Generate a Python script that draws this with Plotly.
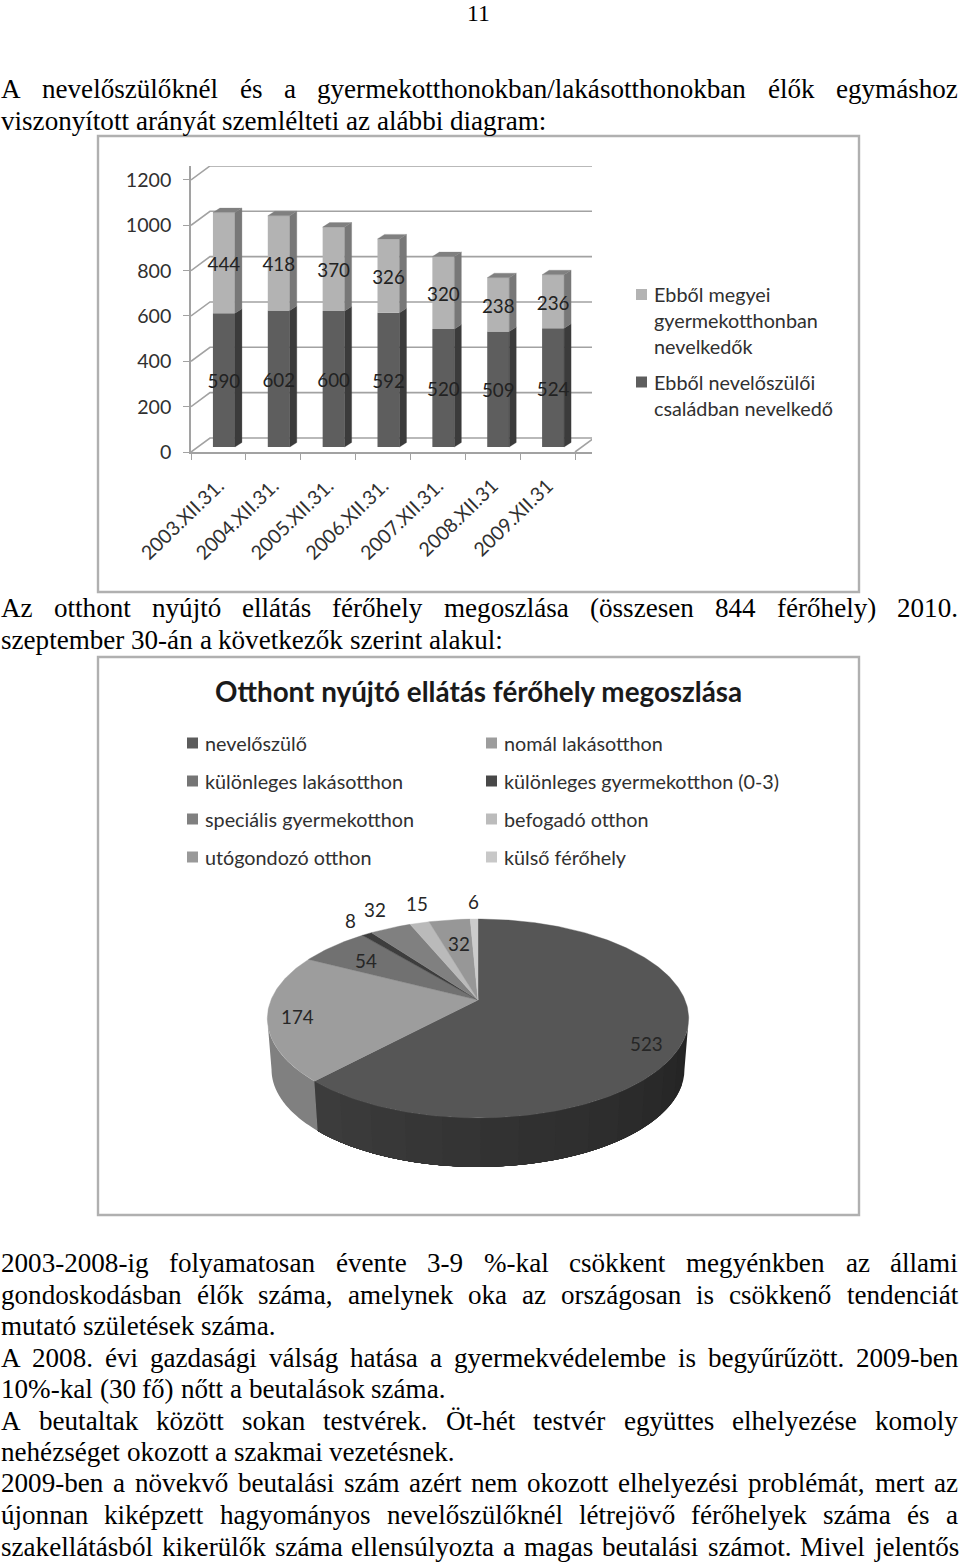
import math
import numpy as np
import plotly.graph_objects as go

# ---------- data ----------
bar_dates = ["2003.XII.31.", "2004.XII.31.", "2005.XII.31.", "2006.XII.31.",
             "2007.XII.31.", "2008.XII.31", "2009.XII.31"]
foster_family = [590, 602, 600, 592, 520, 509, 524]
county_home = [444, 418, 370, 326, 320, 238, 236]
y_ticks = [0, 200, 400, 600, 800, 1000, 1200]
bar_legend_light = ["Ebből megyei", "gyermekotthonban", "nevelkedők"]
bar_legend_dark = ["Ebből nevelőszülői", "családban nevelkedő"]

pie_labels = ["nevelőszülő", "nomál lakásotthon", "különleges lakásotthon",
              "különleges gyermekotthon (0-3)", "speciális gyermekotthon",
              "befogadó otthon", "utógondozó otthon", "külső férőhely"]
pie_values = [523, 174, 54, 8, 32, 15, 32, 6]
pie_title = "Otthont nyújtó ellátás férőhely megoszlása"

justified = [
    (88.5, "A nevelőszülőknél és a gyermekotthonokban/lakásotthonokban élők egymáshoz", True),
    (120.5, "viszonyított arányát szemlélteti az alábbi diagram:", False),
    (608, "Az otthont nyújtó ellátás férőhely megoszlása (összesen 844 férőhely) 2010.", True),
    (640, "szeptember 30-án a következők szerint alakul:", False),
    (1263, "2003-2008-ig folyamatosan évente 3-9 %-kal csökkent megyénkben az állami", True),
    (1295, "gondoskodásban élők száma, amelynek oka az országosan is csökkenő tendenciát", True),
    (1326, "mutató születések száma.", False),
    (1358, "A 2008. évi gazdasági válság hatása a gyermekvédelembe is begyűrűzött. 2009-ben", True),
    (1389, "10%-kal (30 fő) nőtt a beutalások száma.", False),
    (1421, "A beutaltak között sokan testvérek. Öt-hét testvér együttes elhelyezése komoly", True),
    (1452, "nehézséget okozott a szakmai vezetésnek.", False),
    (1483, "2009-ben a növekvő beutalási szám azért nem okozott elhelyezési problémát, mert az", True),
    (1515, "újonnan kiképzett hagyományos nevelőszülőknél létrejövő férőhelyek száma és a", True),
    (1547, "szakellátásból kikerülők száma ellensúlyozta a magas beutalási számot. Mivel jelentős", True),
]

# ---------- styles ----------
W, H = 960, 1564
GRID = "#a2a2a2"
TXT = "#303030"
SANS = "Lato"
SERIF = "Liberation Serif"
BODY_SIZE = 27.1
AXIS_SIZE = 19.6
LEGEND_SIZE = 19.8
DARK, DARK_SIDE = "#5e5e5e", "#3b3b3b"
LIGHT, LIGHT_SIDE = "#b3b3b3", "#787878"
TOP = "#808080"
pie_colors = ["#565656", "#9d9d9d", "#717171", "#3d3d3d", "#808080", "#bababa", "#979797", "#cccccc"]
legend_colors = ["#5c5c5c", "#9d9d9d", "#757575", "#484848", "#808080", "#bcbcbc", "#999999", "#c8c8c8"]
pie_label_px = [(646, 1043), (297, 1016), (366, 960), (350, 920), (375, 909), (417, 903), (459, 943), (473, 901)]


def px(x):
    return x / W


def py(y):
    return 1 - y / H


fig = go.Figure()
annotations = []
shapes = []

# ---------- bar chart geometry ----------
cat_px = 54.86
val_px = 0.2267
ax_left, ax_right, ax_bottom, ax_top = 191, 592, 452, 166
x_rng = [-0.5, -0.5 + (ax_right - ax_left) / cat_px]
y_rng = [0, (ax_bottom - ax_top) / val_px]
wall_dx, wall_dy = 19 / cat_px, 14 / val_px
bar_dx, bar_dy = 7 / cat_px, 4.5 / val_px
bar_shift = 5.5 / cat_px
bar_base = 5 / val_px
bar_w = 22 / cat_px
label_drop = 3.5 / val_px

# wall / grid lines
gx, gy = [], []
for v in y_ticks:
    gx += [x_rng[0], x_rng[0] + wall_dx, x_rng[1], None]
    gy += [v, v + wall_dy, v + wall_dy, None]
gx += [6.5, 6.5 + wall_dx, None]
gy += [0, wall_dy, None]
fig.add_trace(go.Scatter(x=gx, y=gy, mode="lines", line=dict(color=GRID, width=1.6),
                         xaxis="x", yaxis="y", showlegend=False, hoverinfo="skip"))

pos = [i + bar_shift for i in range(len(bar_dates))]
base1 = [bar_base] * len(pos)
base2 = [bar_base + v for v in foster_family]
fig.add_trace(go.Bar(x=pos, y=foster_family, base=base1, width=bar_w, marker=dict(color=DARK, line_width=0),
                     xaxis="x2", yaxis="y2", showlegend=False, name="Ebből nevelőszülői családban nevelkedő"))
fig.add_trace(go.Bar(x=pos, y=county_home, base=base2, width=bar_w, marker=dict(color=LIGHT, line_width=0),
                     xaxis="x2", yaxis="y2", showlegend=False, name="Ebből megyei gyermekotthonban nevelkedők"))


def side_poly(bases, vals):
    xs, ys = [], []
    for p, b, v in zip(pos, bases, vals):
        r = p + bar_w / 2
        xs += [r, r + bar_dx, r + bar_dx, r, r, None]
        ys += [b, b + bar_dy, b + v + bar_dy, b + v, b, None]
    return xs, ys


for bases, vals, col in [(base1, foster_family, DARK_SIDE), (base2, county_home, LIGHT_SIDE)]:
    xs, ys = side_poly(bases, vals)
    fig.add_trace(go.Scatter(x=xs, y=ys, mode="lines", fill="toself", fillcolor=col, line=dict(color=col, width=0.3),
                             xaxis="x2", yaxis="y2", showlegend=False, hoverinfo="skip"))
xs, ys = [], []
for p, b, v in zip(pos, base2, county_home):
    l, r = p - bar_w / 2, p + bar_w / 2
    xs += [l, r, r + bar_dx, l + bar_dx, l, None]
    ys += [b + v, b + v, b + v + bar_dy, b + v + bar_dy, b + v, None]
fig.add_trace(go.Scatter(x=xs, y=ys, mode="lines", fill="toself", fillcolor=TOP, line=dict(color=TOP, width=0.3),
                         xaxis="x2", yaxis="y2", showlegend=False, hoverinfo="skip"))
# value labels
for bases, vals in [(base1, foster_family), (base2, county_home)]:
    fig.add_trace(go.Scatter(x=pos, y=[b + v / 2 - label_drop for b, v in zip(bases, vals)], mode="text",
                             text=[str(v) for v in vals], textposition="middle center",
                             textfont=dict(family=SANS, size=18.8, color="#222222"),
                             xaxis="x2", yaxis="y2", showlegend=False, hoverinfo="skip"))

# ---------- pie (perspective disc, driven by the values) ----------
cx, cy = 478, 1000
k, a, b = 0.186, 207, 96
rim_scale, rim_drop = 0.98, 51.3


def proj(deg, scale=1.0, drop=0.0):
    t = np.radians(deg)
    u, v = np.sin(t), -np.cos(t)
    d = 1 - k * v
    return scale * a * u / d, -(scale * b * v / d + drop)


total = sum(pie_values)
edges = np.cumsum([0] + pie_values) / total * 360
vis_a = 180 - math.degrees(math.acos(k))
vis_b = 180 + math.degrees(math.acos(k))


def side_strip(d0, d1, col):
    arc = np.linspace(d0, d1, 40)
    x0, y0 = proj(arc)
    x1, y1 = proj(arc[::-1], rim_scale, rim_drop)
    fig.add_trace(go.Scatter(x=list(x0) + list(x1), y=list(y0) + list(y1), mode="none", fill="toself",
                             fillcolor=col, xaxis="x3", yaxis="y3", showlegend=False, hoverinfo="skip"))


n_strip = 14
st = np.linspace(vis_a, edges[1], n_strip + 1)
for i in range(n_strip):
    g = int(0x24 + (0x3c - 0x24) * i / (n_strip - 1))
    side_strip(st[i], edges[1], f"rgb({g},{g},{g})")
side_strip(edges[1], vis_b, "#808080")

for i, (name, col) in enumerate(zip(pie_labels, pie_colors)):
    arc = np.linspace(edges[i], edges[i + 1], max(3, int(edges[i + 1] - edges[i]) + 2))
    x, y = proj(arc)
    fig.add_trace(go.Scatter(x=[0] + list(x) + [0], y=[0] + list(y) + [0], mode="lines", fill="toself",
                             fillcolor=col, line=dict(color=col, width=0.4), name=name,
                             xaxis="x3", yaxis="y3", showlegend=False, hoverinfo="skip"))

for v, (lx, ly) in zip(pie_values, pie_label_px):
    annotations.append(dict(x=px(lx), y=py(ly), text=str(v), xref="paper", yref="paper", showarrow=False,
                            xanchor="center", yanchor="middle",
                            font=dict(family=SANS, size=18.8, color="#262626")))


# ---------- text helpers ----------
def note(x, y, text, size, family=SANS, color=TXT, xanchor="left", bold=False):
    annotations.append(dict(x=px(x), y=py(y), text=f"<b>{text}</b>" if bold else text, xref="paper", yref="paper",
                            showarrow=False, xanchor=xanchor, yanchor="middle", borderpad=0,
                            font=dict(family=family, size=size, color=color)))


TIMES = dict(zip("abcdefghijklmnopqrstuvwxyz",
                 [444, 500, 444, 500, 444, 333, 500, 500, 278, 278, 500, 278, 778, 500, 500, 500, 500, 333, 389, 278,
                  500, 500, 722, 500, 500, 444]))
TIMES.update({"A": 722, "M": 889, "Ö": 722, "Z": 611, " ": 250, ".": 250, ",": 250, "-": 333, ":": 278, "%": 833,
              "(": 333, ")": 333, "/": 278, "á": 444, "é": 444, "í": 278, "ó": 500, "ö": 500, "ő": 500, "ú": 500,
              "ü": 500, "ű": 500})
for ch in "0123456789":
    TIMES[ch] = 500


def word_w(w):
    return sum(TIMES.get(c, 500) for c in w) * BODY_SIZE / 1000


def body_line(y, line, just, left=0, right=957):
    words = line.split(" ")
    widths = [word_w(w) for w in words]
    gap = (right - left - sum(widths)) / (len(words) - 1) if just else 250 * BODY_SIZE / 1000
    x = left
    for w, wd in zip(words, widths):
        note(x, y, w, BODY_SIZE, family=SERIF, color="#000000")
        x += wd + gap


note(478, 13, "11", 23.7, family=SERIF, color="#000000", xanchor="center")
for y, line, just in justified:
    body_line(y, line, just)

# frames
for y0, y1 in [(136, 592), (657, 1215)]:
    shapes.append(dict(type="rect", xref="paper", yref="paper", x0=px(98), x1=px(859), y0=py(y0), y1=py(y1),
                       line=dict(color="#b0b0b0", width=2.4), fillcolor="rgba(0,0,0,0)", layer="below"))


def square(x0, yc, col, size=11):
    shapes.append(dict(type="rect", xref="paper", yref="paper", x0=px(x0), x1=px(x0 + size),
                       y0=py(yc - size / 2), y1=py(yc + size / 2), line_width=0, fillcolor=col))


# bar legend
square(636, 294.5, LIGHT)
for yy, t in zip([294, 320, 346], bar_legend_light):
    note(653, yy, t, LEGEND_SIZE)
square(636, 382, DARK)
for yy, t in zip([382, 408], bar_legend_dark):
    note(653, yy, t, LEGEND_SIZE)

# pie title + legend
note(478, 692, pie_title, 27.8, color="#1a1a1a", xanchor="center", bold=True)
rows = [743, 781, 819, 857]
for i, (name, col) in enumerate(zip(pie_labels, legend_colors)):
    col_i, row_i = i % 2, i // 2
    square([187, 486][col_i], rows[row_i], col)
    note([204, 503][col_i], rows[row_i], name, LEGEND_SIZE)

# ---------- layout ----------
axis_off = dict(visible=False, fixedrange=True)
dom_x = [px(ax_left), px(ax_right)]
dom_y = [py(ax_bottom), py(ax_top)]
fig.update_layout(
    width=W, height=H, margin=dict(l=0, r=0, t=0, b=0, pad=0, autoexpand=False), autosize=False,
    paper_bgcolor="white", plot_bgcolor="rgba(0,0,0,0)", barmode="overlay", showlegend=False,
    annotations=annotations, shapes=shapes,
    xaxis=dict(domain=dom_x, range=x_rng, anchor="y", showgrid=False, zeroline=False, showline=True,
               linecolor=GRID, linewidth=1.6, tickmode="array", tickvals=list(range(len(bar_dates))),
               ticktext=bar_dates, tickangle=-44, ticks="", ticklabelstandoff=13,
               tickfont=dict(family=SANS, size=AXIS_SIZE, color=TXT),
               minor=dict(tick0=-0.5, dtick=1, ticks="outside", ticklen=6, tickcolor=GRID, tickwidth=1.4)),
    yaxis=dict(domain=dom_y, range=y_rng, anchor="x", showgrid=False, zeroline=False, showline=True,
               linecolor=GRID, linewidth=1.6, tickmode="array", tickvals=y_ticks, ticks="outside", ticklen=6,
               tickcolor=GRID, tickwidth=1.4, ticklabelstandoff=8, tickfont=dict(family=SANS, size=AXIS_SIZE, color=TXT)),
    xaxis2=dict(domain=dom_x, range=x_rng, overlaying="x", anchor="y2", **axis_off),
    yaxis2=dict(domain=dom_y, range=y_rng, overlaying="y", anchor="x2", **axis_off),
    xaxis3=dict(domain=[px(98), px(859)], range=[98 - cx, 859 - cx], anchor="y3", **axis_off),
    yaxis3=dict(domain=[py(1215), py(657)], range=[cy - 1215, cy - 657], anchor="x3", **axis_off),
)

fig.write_html("out.html", config=dict(displayModeBar=False),
               post_script="document.body.style.margin='0';document.documentElement.style.overflow='hidden';")
